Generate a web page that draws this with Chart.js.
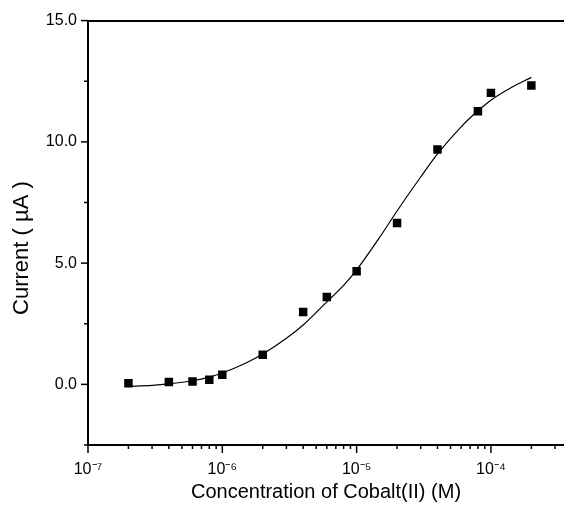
<!DOCTYPE html>
<html>
<head>
<meta charset="utf-8">
<script src="https://cdn.jsdelivr.net/npm/chart.js@4.4.1/dist/chart.umd.min.js"></script>
<style>
html,body{margin:0;padding:0;background:#fff;}
#wrap{width:564px;height:508px;position:relative;}
</style>
</head>
<body>
<div id="wrap"><canvas id="c"></canvas></div>
<script>
// measured points
const concentrations = [2e-7, 4e-7, 6e-7, 8e-7, 1e-6, 2e-6, 4e-6, 6e-6, 1e-5, 2e-5, 4e-5, 8e-5, 1e-4, 2e-4];
const currents = [0.05, 0.10, 0.12, 0.19, 0.40, 1.22, 2.98, 3.60, 4.66, 6.65, 9.68, 11.26, 12.02, 12.32];
// fitted curve
const fitX = [2e-7, 3e-7, 4e-7, 6e-7, 8e-7, 1e-6, 1.5e-6, 2e-6, 3e-6, 4e-6, 6e-6, 8e-6, 1e-5, 1.5e-5, 2e-5, 3e-5, 4e-5, 6e-5, 8e-5, 1e-4, 1.4e-4, 2e-4];
const fitY = [-0.08, -0.04, 0.02, 0.15, 0.30, 0.47, 0.88, 1.25, 1.90, 2.45, 3.40, 4.08, 4.72, 6.10, 7.15, 8.55, 9.50, 10.62, 11.28, 11.72, 12.22, 12.66];
const xMin = 1e-7, xMax = 3.5e-4;
const yMin = -2.5, yMax = 15, yStep = 2.5;
const xTitle = 'Concentration of Cobalt(II) (M)';
const yTitle = 'Current ( \u00B5A )';
const supers = {'-':'\u207B','0':'\u2070','1':'\u00B9','2':'\u00B2','3':'\u00B3','4':'\u2074','5':'\u2075','6':'\u2076','7':'\u2077','8':'\u2078','9':'\u2079'};

const FONT = '"Liberation Sans", Arial, Helvetica, sans-serif';

function isPow10(v){
  const e = Math.round(Math.log10(v));
  return Math.abs(v / Math.pow(10, e) - 1) < 1e-6;
}

const tickMarks = {
  id: 'tickMarks',
  afterDraw(chart){
    const ctx = chart.ctx, xs = chart.scales.x, ys = chart.scales.y;
    ctx.save();
    ctx.strokeStyle = '#000';
    ctx.lineWidth = 1.5;
    xs.ticks.forEach(t => {
      const v = t.value;
      const e = Math.floor(Math.log10(v) + 1e-9);
      const m = v / Math.pow(10, e);
      if (Math.abs(m - Math.round(m)) > 1e-6) return;
      const px = xs.getPixelForValue(v);
      const len = Math.round(m) === 1 ? 8 : 4;
      ctx.beginPath(); ctx.moveTo(px, xs.top); ctx.lineTo(px, xs.top + len); ctx.stroke();
    });
    ys.ticks.forEach(t => {
      const py = ys.getPixelForValue(t.value);
      const major = Math.abs(t.value % 5) < 1e-6;
      const len = major ? 7 : 4;
      ctx.beginPath(); ctx.moveTo(ys.right, py); ctx.lineTo(ys.right - len, py); ctx.stroke();
    });
    ctx.restore();
  }
};

new Chart(document.getElementById('c'), {
  type: 'scatter',
  data: {
    datasets: [
      {
        label: 'data',
        data: concentrations.map((x, i) => ({x, y: currents[i]})),
        pointStyle: 'rect',
        pointRadius: 6,
        backgroundColor: '#000',
        borderColor: '#000',
        borderWidth: 0,
        showLine: false
      },
      {
        label: 'fit',
        data: fitX.map((x, i) => ({x, y: fitY[i]})),
        showLine: true,
        borderColor: '#000',
        borderWidth: 1.2,
        pointRadius: 0,
        cubicInterpolationMode: 'monotone',
        fill: false
      }
    ]
  },
  options: {
    responsive: true,
    maintainAspectRatio: false,
    animation: false,
    layout: {padding: 0, autoPadding: false},
    plugins: {legend: {display: false}, tooltip: {enabled: false}},
    scales: {
      x: {
        type: 'logarithmic',
        position: 'bottom',
        min: xMin, max: xMax,
        afterFit(a){ a.height = 63; a.paddingLeft = 0; a.paddingRight = 0; },
        border: {display: true, color: '#000', width: 2},
        grid: {display: true, drawOnChartArea: false, drawTicks: false, color: 'rgba(0,0,0,0)'},
        ticks: {
          autoSkip: false, maxRotation: 0, minRotation: 0, padding: 15,
          color: '#000', font: {family: FONT, size: 16},
          callback(v){
            if (!isPow10(v)) return '';
            const e = String(Math.round(Math.log10(v)));
            return '10' + e.split('').map(c => supers[c]).join('');
          }
        },
        title: {display: true, text: xTitle, color: '#000', font: {family: FONT, size: 20}, padding: {top: 0, bottom: 4}}
      },
      x2: {
        type: 'logarithmic',
        position: 'top',
        min: xMin, max: xMax,
        afterFit(a){ a.height = 20; a.paddingLeft = 0; a.paddingRight = 0; },
        border: {display: true, color: '#000', width: 2},
        grid: {display: true, drawOnChartArea: false, drawTicks: false, color: 'rgba(0,0,0,0)'},
        ticks: {display: false}
      },
      y: {
        type: 'linear',
        position: 'left',
        min: yMin, max: yMax,
        afterFit(a){ a.width = 88; },
        border: {display: true, color: '#000', width: 2},
        grid: {display: true, drawOnChartArea: false, drawTicks: false, color: 'rgba(0,0,0,0)'},
        ticks: {
          stepSize: yStep, autoSkip: false, padding: 11,
          color: '#000', font: {family: FONT, size: 16},
          callback(v){ return Math.abs(v % 5) < 1e-6 ? v.toFixed(1) : ''; }
        },
        title: {display: true, text: yTitle + '\u00A0\u00A0\u00A0\u00A0\u00A0', color: '#000', font: {family: FONT, size: 22}, padding: {top: 9, bottom: 0}}
      }
    }
  },
  plugins: [tickMarks]
});
</script>
</body>
</html>
